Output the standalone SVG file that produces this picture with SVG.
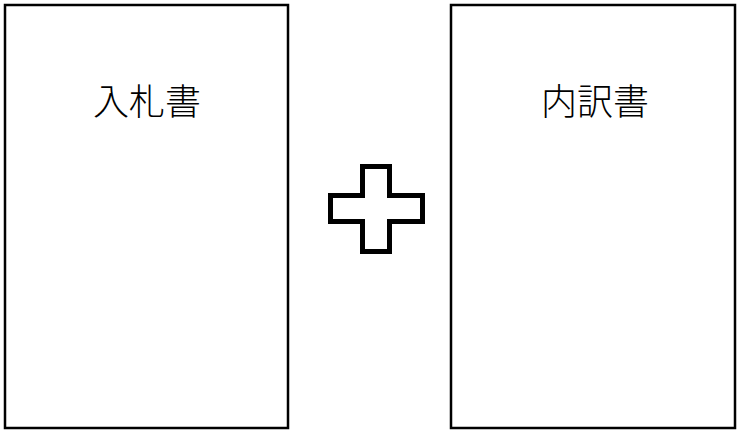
<svg xmlns="http://www.w3.org/2000/svg" width="742" height="430" viewBox="0 0 742 430">
<style>
.box{fill:#fff;stroke:#000;stroke-width:2.5}
.lbl{font-family:"Noto Sans CJK JP","Noto Sans CJK SC",sans-serif;font-size:36px;font-weight:300;fill:#000;text-anchor:middle}
.plus{fill:#fff;stroke:#000;stroke-width:5;stroke-linejoin:miter}
</style>
<rect width="742" height="430" fill="#fff"/>
<g id="node-bid">
<rect class="box" x="5" y="5" width="283" height="423"/>
<text class="lbl" x="147" y="115">入札書</text>
</g>
<g id="node-plus">
<path class="plus" d="M362.5,166.5 H389.5 V195.5 H422.5 V221.5 H389.5 V251.5 H362.5 V221.5 H330.5 V195.5 H362.5 Z"/>
</g>
<g id="node-breakdown">
<rect class="box" x="451" y="5" width="284" height="423"/>
<text class="lbl" x="595" y="115">内訳書</text>
</g>
<g id="connectors"/>
</svg>
